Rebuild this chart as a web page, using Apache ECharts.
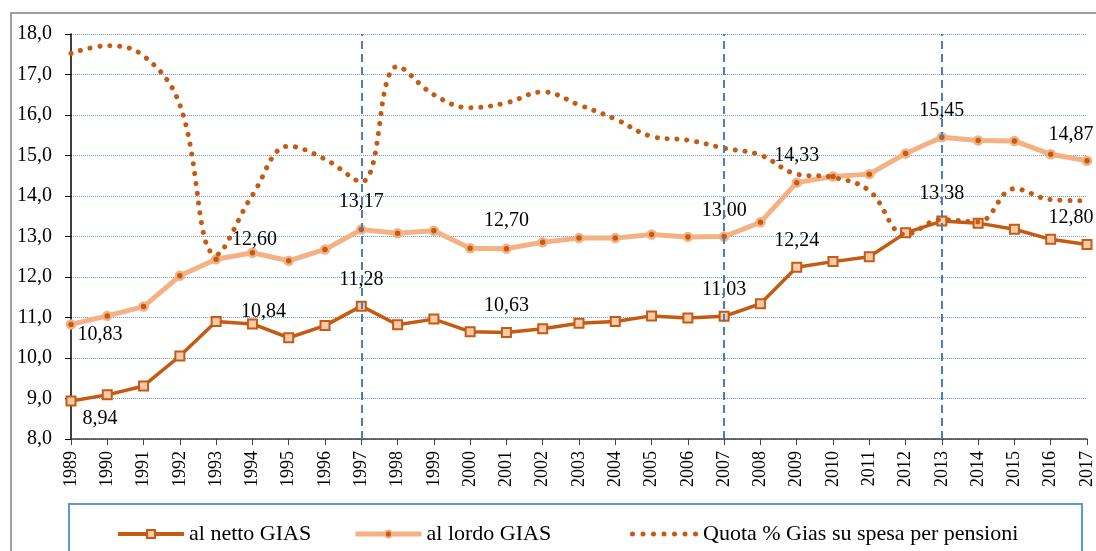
<!DOCTYPE html>
<html>
<head>
<meta charset="utf-8">
<script src="https://cdn.jsdelivr.net/npm/echarts@6/dist/echarts.min.js"></script>
<style>
html, body { margin: 0; padding: 0; background: #fff; }
#chart { width: 1096px; height: 551px; }
</style>
</head>
<body>
<div id="chart"></div>
<script>
var anni = ["1989","1990","1991","1992","1993","1994","1995","1996","1997","1998",
    "1999","2000","2001","2002","2003","2004","2005","2006","2007","2008",
    "2009","2010","2011","2012","2013","2014","2015","2016","2017"];
var nettoGias = [8.94, 9.09, 9.31, 10.05, 10.90, 10.84, 10.50, 10.80, 11.28, 10.82,
    10.96, 10.65, 10.63, 10.72, 10.86, 10.90, 11.04, 10.99, 11.03, 11.34,
    12.24, 12.38, 12.50, 13.09, 13.38, 13.33, 13.18, 12.93, 12.80];
var lordoGias = [10.83, 11.04, 11.27, 12.03, 12.44, 12.60, 12.40, 12.68, 13.17, 13.08,
    13.14, 12.71, 12.70, 12.86, 12.96, 12.96, 13.05, 12.99, 13.00, 13.35,
    14.33, 14.48, 14.54, 15.05, 15.45, 15.37, 15.36, 15.03, 14.87];
var quotaGias = [17.52, 17.71, 17.46, 16.25, 12.55, 14.02, 15.23, 14.91, 14.35, 17.20,
    16.50, 16.18, 16.30, 16.57, 16.25, 15.90, 15.47, 15.38, 15.18, 15.01,
    14.54, 14.46, 14.13, 13.05, 13.42, 13.36, 14.18, 13.91, 13.88];
var anniVerticali = ["1997", "2007", "2013"];
var nomiSerie = ["al netto GIAS", "al lordo GIAS", "Quota % Gias su spesa per pensioni"];

// posizione delle etichette (indice -> spostamento)
var etichetteNetto = {0: [29, 18], 5: [11, -12], 8: [0, -26], 12: [0, -27], 18: [0, -27], 20: [0, -27], 24: [0, -27], 28: [-16, -27]};
var etichetteLordo = {0: [29, 10], 5: [2, -13], 8: [0, -28], 12: [0, -28], 18: [0, -26], 20: [0, -27], 24: [0, -27], 28: [-16, -26]};

var font = "Liberation Serif";
var scuro = "#C55A11";
var chiaro = "#F4B183";

// icona a puntini per la legenda
var iconaPuntini = "path://";
for (var k = 0; k < 7; k++) {
    var cx = 2.5 + k * 10.5;
    iconaPuntini += "M" + (cx - 2.5) + " 2.5a2.5 2.5 0 1 0 5 0a2.5 2.5 0 1 0 -5 0z";
}

function virgola(v, d) {
    return v.toFixed(d).replace(".", ",");
}

function conEtichette(valori, etichette) {
    return valori.map(function (v, i) {
        if (etichette[i] == null) { return v; }
        return {
            value: v,
            label: {
                show: true,
                position: "inside",
                offset: etichette[i],
                color: "#000",
                fontFamily: font,
                fontSize: 20,
                formatter: function (p) { return virgola(p.value, 2); }
            }
        };
    });
}

var chart = echarts.init(document.getElementById("chart"));

var testoLegenda = { fontFamily: font, fontSize: 22, color: "#000" };

var option = {
    backgroundColor: "#fff",
    animation: false,
    grid: { left: 71, right: 7, top: 34, bottom: 112 },
    graphic: [
        { type: "rect", shape: { x: 11, y: 13, width: 1200, height: 700 }, style: { fill: null, stroke: "#7f7f7f", lineWidth: 1.5 }, silent: true },
        { type: "rect", shape: { x: 69, y: 504, width: 1013, height: 100 }, style: { fill: null, stroke: "#5B9BD5", lineWidth: 2 }, silent: true }
    ],
    legend: [
        { data: [{ name: nomiSerie[0], lineStyle: { width: 4 } }], left: 111, top: 518, itemWidth: 66, itemHeight: 10, itemGap: 6, textStyle: testoLegenda },
        { data: [{ name: nomiSerie[1], lineStyle: { width: 5 } }], left: 348, top: 518, itemWidth: 66, itemHeight: 9, itemGap: 6, textStyle: testoLegenda },
        { data: [{ name: nomiSerie[2], icon: iconaPuntini, itemStyle: { color: scuro, borderWidth: 0 } }], left: 625, top: 518, itemWidth: 68, itemHeight: 5, itemGap: 10, textStyle: testoLegenda }
    ],
    xAxis: {
        type: "category",
        data: anni,
        boundaryGap: false,
        axisLine: { lineStyle: { color: "#404040", width: 1.5 } },
        axisTick: { show: true, length: 6, lineStyle: { color: "#404040" } },
        axisLabel: { rotate: 90, margin: 12, color: "#000", fontFamily: font, fontSize: 18 },
        splitLine: { show: false }
    },
    yAxis: {
        type: "value",
        min: 8,
        max: 18,
        interval: 1,
        axisLine: { show: true, lineStyle: { color: "#000", width: 1.5 } },
        axisTick: { show: true, length: 6, lineStyle: { color: "#000" } },
        axisLabel: { margin: 19, color: "#000", fontFamily: font, fontSize: 20, formatter: function (v) { return virgola(v, 1); } },
        splitLine: { show: true, lineStyle: { color: "#6A98D4", type: "dotted", width: 1 } }
    },
    series: [
        {
            name: nomiSerie[0],
            type: "line",
            data: conEtichette(nettoGias, etichetteNetto),
            symbol: "rect",
            symbolSize: 9,
            lineStyle: { color: scuro, width: 3.5 },
            itemStyle: { color: "#F8CBAD", borderColor: scuro, borderWidth: 2 },
            z: 3,
            markLine: {
                silent: true,
                symbol: "none",
                label: { show: false },
                lineStyle: { color: "#4A7EBB", type: [8, 5], width: 2 },
                data: anniVerticali.map(function (a) { return { xAxis: a }; })
            }
        },
        {
            name: nomiSerie[1],
            type: "line",
            data: conEtichette(lordoGias, etichetteLordo),
            symbol: "circle",
            symbolSize: 8,
            lineStyle: { color: chiaro, width: 5 },
            itemStyle: { color: scuro, borderColor: chiaro, borderWidth: 2.5 },
            z: 2
        },
        {
            name: nomiSerie[2],
            type: "line",
            data: quotaGias,
            smooth: 0.4,
            symbol: "none",
            showSymbol: false,
            lineStyle: { color: scuro, width: 5, type: [0.1, 9.8], cap: "round" },
            itemStyle: { color: scuro },
            z: 4
        }
    ]
};

chart.setOption(option);
</script>
</body>
</html>
